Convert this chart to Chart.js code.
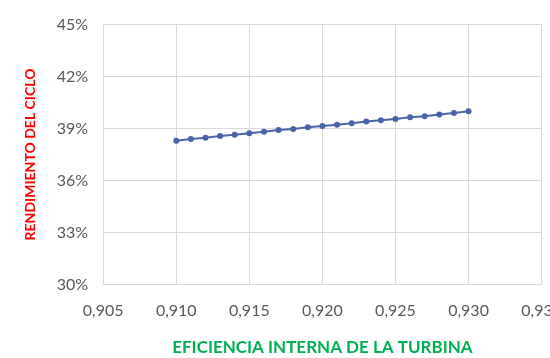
<!DOCTYPE html>
<html>
<head>
<meta charset="utf-8">
<script src="https://cdn.jsdelivr.net/npm/chart.js@4/dist/chart.umd.min.js"></script>
<style>
  html, body { margin: 0; padding: 0; background: #fff; overflow: hidden; }
  #wrap { width: 579px; height: 358px; }
</style>
</head>
<body>
<div id="wrap"><canvas id="myChart" width="579" height="358"></canvas></div>
<script>
// Turbine internal efficiency vs cycle efficiency (%)
const efficiency = [0.910, 0.911, 0.912, 0.913, 0.914, 0.915, 0.916, 0.917, 0.918, 0.919, 0.920,
                    0.921, 0.922, 0.923, 0.924, 0.925, 0.926, 0.927, 0.928, 0.929, 0.930];
const cycleYield = [38.30, 38.39, 38.47, 38.57, 38.64, 38.73, 38.81, 38.91, 38.97, 39.07, 39.15,
                    39.22, 39.30, 39.40, 39.48, 39.55, 39.65, 39.71, 39.81, 39.89, 40.00];
const xTicks = [0.905, 0.910, 0.915, 0.920, 0.925, 0.930, 0.935];
const yTicks = [30, 33, 36, 39, 42, 45];

const ctx = document.querySelector("#myChart");
const tickFont = { family: "Lato", size: 16 };
const lineColor = "#4a64a8";

let yieldChart = new Chart(ctx, {
    type: "scatter",
    data: {
        datasets: [
            {
                data: efficiency.map((x, i) => ({ x: x, y: cycleYield[i] })),
                showLine: true,
                borderColor: lineColor,
                backgroundColor: lineColor,
                borderWidth: 2,
                pointRadius: 3,
                pointBorderWidth: 0,
            },
        ]
    },
    options: {
        responsive: false,
        animation: false,
        layout: { padding: { left: 22, top: 10, right: 0, bottom: 0 } },
        plugins: {
            legend: { display: false },
            tooltip: { enabled: false },
        },
        scales: {
            x: {
                type: "linear",
                min: 0.905,
                max: 0.935,
                afterBuildTicks: axis => { axis.ticks = xTicks.map(v => ({ value: v })); },
                grid: { color: "#d9d9d9", drawTicks: false },
                border: { color: "#d9d9d9" },
                ticks: {
                    color: "#595959",
                    font: tickFont,
                    padding: 17,
                    maxRotation: 0,
                    callback: value => value.toFixed(3).replace(".", ","),
                },
                title: {
                    display: true,
                    text: "EFICIENCIA INTERNA DE LA TURBINA",
                    color: "#00b050",
                    font: { family: "Lato", size: 17, weight: "bold" },
                    padding: { top: 0, bottom: 0 },
                },
            },
            y: {
                min: 30,
                max: 45,
                afterBuildTicks: axis => { axis.ticks = yTicks.map(v => ({ value: v })); },
                grid: { color: "#d9d9d9", drawTicks: false },
                border: { color: "#d9d9d9" },
                ticks: {
                    color: "#595959",
                    font: tickFont,
                    padding: 15,
                    callback: value => value + "%",
                },
                title: {
                    display: true,
                    text: "RENDIMIENTO DEL CICLO",
                    color: "#ff0000",
                    font: { family: "Lato", size: 14, weight: "bold" },
                    padding: { top: 0, bottom: 3 },
                },
            }
        }
    }
});
</script>
</body>
</html>
